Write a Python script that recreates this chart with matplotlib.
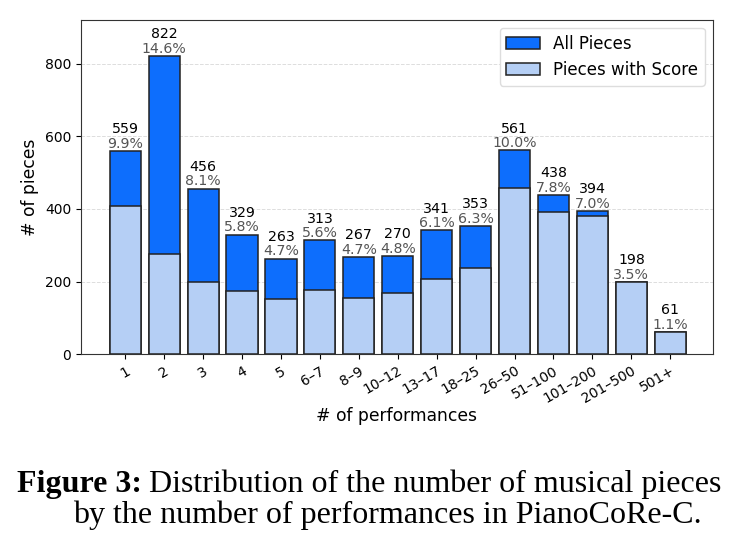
import matplotlib
matplotlib.use("Agg")
import matplotlib.pyplot as plt
import numpy as np

categorias = ["1", "2", "3", "4", "5", "6–7", "8–9", "10–12", "13–17", "18–25",
              "26–50", "51–100", "101–200", "201–500", "501+"]
todas = [559, 822, 456, 329, 263, 313, 267, 270, 341, 353, 561, 438, 394, 198, 61]
con_partitura = [408, 275, 200, 175, 152, 177, 155, 167, 206, 236, 457, 391, 380, 198, 61]
porcentajes = ["9.9%", "14.6%", "8.1%", "5.8%", "4.7%", "5.6%", "4.7%", "4.8%", "6.1%",
               "6.3%", "10.0%", "7.8%", "7.0%", "3.5%", "1.1%"]

fig = plt.figure(figsize=(7.42, 5.49), dpi=100)
ax = fig.add_axes([0.109, 0.355, 0.852, 0.609])

x = np.arange(len(categorias))
ax.bar(x, todas, width=0.8, color="#0D6EFD", edgecolor="#222222", linewidth=1.1,
       label="All Pieces", zorder=2)
ax.bar(x, con_partitura, width=0.8, color="#B5CFF5", edgecolor="#222222", linewidth=1.1,
       label="Pieces with Score", zorder=3)

# numero arriba, porcentaje debajo
for i, (v, p) in enumerate(zip(todas, porcentajes)):
    ax.annotate(str(v), (i, v), xytext=(0, 12.8), textcoords="offset points",
                ha="center", va="baseline", fontsize=10.2, color="black")
    ax.annotate(p, (i, v), xytext=(0, 2.3), textcoords="offset points",
                ha="center", va="baseline", fontsize=10.2, color="#555555")

ax.set_ylim(0, 921)
ax.set_xlim(-1.14, 15.1)
ax.set_yticks([0, 200, 400, 600, 800])
ax.set_xticks(x)
ax.set_xticklabels(categorias, rotation=30, ha="right", rotation_mode="anchor")
ax.tick_params(axis="both", labelsize=10)
ax.set_ylabel("# of pieces", fontsize=12.3)
ax.set_xlabel("# of performances", fontsize=12.3, labelpad=1)
ax.grid(axis="y", linestyle="--", color="#dddddd", linewidth=0.7, zorder=0)
ax.set_axisbelow(True)
for s in ax.spines.values():
    s.set_color("#333333")

ax.legend(loc="upper right", fontsize=12, framealpha=1, edgecolor="#dddddd")

# leyenda de la figura
serif = "Liberation Serif"
t1 = fig.text(17 / 742, 0.104, "Figure 3:", fontsize=23, family=serif,
              fontweight="bold", va="baseline")
fig.canvas.draw()
bb = t1.get_window_extent(renderer=fig.canvas.get_renderer())
fig.text((bb.x1 + 7) / 742, 0.104, "Distribution of the number of musical pieces",
         fontsize=23, family=serif, va="baseline")
fig.text(73 / 742, 0.047, "by the number of performances in PianoCoRe-C.",
         fontsize=23, family=serif, va="baseline")

plt.savefig("out.png", dpi=100)
